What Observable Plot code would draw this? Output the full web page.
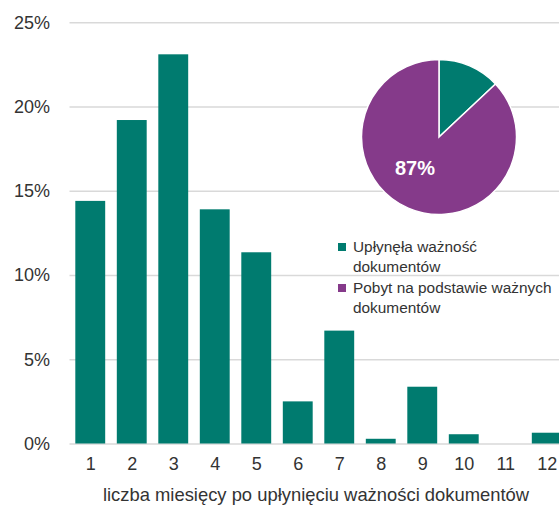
<!DOCTYPE html>
<html><head><meta charset="utf-8">
<script src="https://cdn.jsdelivr.net/npm/d3@7"></script>
<script src="https://cdn.jsdelivr.net/npm/@observablehq/plot@0.6"></script>
<style>
html,body{margin:0;padding:0;background:#fff;overflow:hidden;}
#wrap{position:relative;width:559px;height:509px;overflow:hidden;}
#wrap svg{max-width:none !important;}
#legend{position:absolute;left:338px;top:236.5px;font-family:"Liberation Sans",Arial,sans-serif;font-size:15.4px;color:#333;line-height:20.5px;white-space:nowrap;}
#legend .item{position:relative;padding-left:15px;}
#legend .sw{position:absolute;left:0;top:6.5px;width:8px;height:8px;}
</style>
</head><body>
<div id="wrap"></div>
<script>
const months = ["1","2","3","4","5","6","7","8","9","10","11","12"];
const shares = [0.144,0.192,0.231,0.139,0.1135,0.025,0.067,0.0028,0.0337,0.0055,0,0.0064];
const yTicks = [0,0.05,0.10,0.15,0.20,0.25];
const xLabel = "liczba miesięcy po upłynięciu ważności dokumentów";
const pieLabels = ["Upłynęła ważność dokumentów","Pobyt na podstawie ważnych dokumentów"];
const pieLegendLines = [["Upłynęła ważność","dokumentów"],["Pobyt na podstawie ważnych","dokumentów"]];
const pieShares = [0.13,0.87];
const colors = ["#007B6F","#853A8A"];

const FONT = '"Liberation Sans",Arial,sans-serif';
const data = months.map((m,i)=>({month:m, share:shares[i]}));

function pieMark(){
  const cx = 439, cy = 137, r = 77.5;
  const g = d3.create("svg:g").attr("transform",`translate(${cx},${cy})`);
  const arcs = d3.pie().sort(null).value(d=>d)(pieShares);
  const arc = d3.arc().innerRadius(0).outerRadius(r);
  g.selectAll("path").data(arcs).join("path")
    .attr("d",arc).attr("fill",(d,i)=>colors[i])
    .attr("stroke","#fff").attr("stroke-width",1.5);
  const big = arcs[1];
  g.append("text").attr("x",-24).attr("y",31).attr("dy","0.35em")
    .attr("text-anchor","middle").attr("fill","#fff")
    .attr("font-family",FONT).attr("font-weight","bold").attr("font-size",20)
    .text(d3.format(".0%")(big.data));
  return g.node();
}

const chart = Plot.plot({
  width:568, height:509,
  marginLeft:69.5, marginRight:0.5, marginTop:22.3, marginBottom:65.5,
  style:{fontFamily:FONT, fontSize:"18px", color:"#333", background:"transparent"},
  x:{domain:months, paddingInner:0.28, paddingOuter:0.14, round:false, axis:null},
  y:{domain:[0,0.25], axis:null},
  marks:[
    Plot.gridY(yTicks,{stroke:"#d9d9d9", strokeOpacity:1, strokeWidth:1.5}),
    Plot.barY(data,{x:"month", y:"share", fill:colors[0]}),
    Plot.axisY(yTicks,{tickSize:0, tickPadding:20, tickFormat:d3.format(".0%"), label:null, fontSize:18}),
    Plot.axisX({tickSize:0, tickPadding:13, label:null, fontSize:18}),
    Plot.text([xLabel],{frameAnchor:"bottom", dy:51, dx:-3, fontSize:18.4, fill:"#333", lineAnchor:"middle"}),
    pieMark
  ]
});
document.getElementById("wrap").appendChild(chart);

const leg = document.createElement("div"); leg.id="legend";
pieLegendLines.forEach((lines,i)=>{
  const it = document.createElement("div"); it.className="item"; it.title = pieLabels[i];
  const sw = document.createElement("span"); sw.className="sw"; sw.style.background=colors[i];
  it.appendChild(sw);
  lines.forEach(l=>{const d=document.createElement("div"); d.textContent=l; it.appendChild(d);});
  leg.appendChild(it);
});
document.getElementById("wrap").appendChild(leg);
</script>
</body></html>
